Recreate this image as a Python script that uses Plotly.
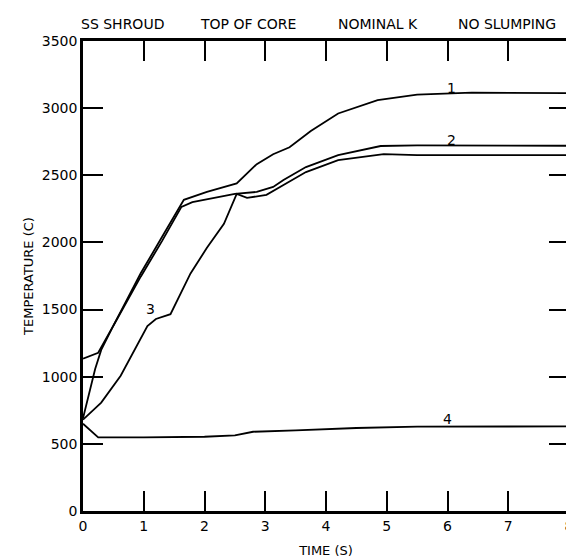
import plotly.graph_objects as go

# ---- data ----
t1 = [0, 0.25, 0.5, 0.95, 1.3, 1.66, 2.04, 2.53, 2.86, 3.13, 3.4, 3.75, 4.2, 4.85, 5.5, 6.4, 8.0]
T1 = [1135, 1178, 1380, 1770, 2040, 2317, 2376, 2440, 2583, 2657, 2709, 2830, 2960, 3060, 3100, 3115, 3112]

t2 = [0, 0.1, 0.2, 0.3, 0.5, 0.95, 1.3, 1.62, 1.8, 2.5, 2.86, 3.13, 3.3, 3.67, 4.2, 4.9, 5.5, 8.0]
T2 = [690, 870, 1058, 1200, 1380, 1745, 2010, 2265, 2300, 2362, 2376, 2413, 2465, 2561, 2650, 2718, 2722, 2720]

t3 = [0, 0.3, 0.62, 1.06, 1.2, 1.44, 1.77, 2.04, 2.32, 2.53, 2.7, 3.02, 3.3, 3.67, 4.2, 4.95, 5.5, 8.0]
T3 = [680, 807, 1007, 1377, 1430, 1466, 1769, 1960, 2139, 2361, 2332, 2354, 2428, 2524, 2613, 2657, 2650, 2650]

t4 = [0, 0.25, 1.0, 2.0, 2.5, 2.8, 3.5, 4.5, 5.5, 8.0]
T4 = [650, 548, 548, 553, 563, 590, 600, 618, 628, 630]

curve_names = ["1", "2", "3", "4"]
label_t = [6.07, 6.07, 1.11, 6.0]
label_T = [3153, 2761, 1502, 688]

x_ticks = [0, 1, 2, 3, 4, 5, 6, 7, 8]
y_ticks = [0, 500, 1000, 1500, 2000, 2500, 3000, 3500]

title_parts = ["SS SHROUD", "TOP OF CORE", "NOMINAL K", "NO SLUMPING"]
title_px = [71, 191, 330, 451]

FONT = "DejaVu Sans"
PL, PR, PT, PB = 75, 565, 33, 506   # plot area in pixels

fig = go.Figure()
for tt, TT in [(t1, T1), (t2, T2), (t3, T3), (t4, T4)]:
    fig.add_trace(go.Scatter(x=tt, y=TT, mode="lines",
                             line=dict(color="black", width=1.8),
                             showlegend=False, hoverinfo="skip"))

for name, lx, ly in zip(curve_names, label_t, label_T):
    fig.add_annotation(x=lx, y=ly, text=name, showarrow=False,
                       font=dict(family=FONT, size=14, color="black"))

for txt, px in zip(title_parts, title_px):
    fig.add_annotation(x=(px - PL) / (PR - PL), y=1 + (PT - 16) / (PB - PT),
                       xref="paper", yref="paper",
                       text=txt, showarrow=False, xanchor="left", yanchor="middle",
                       font=dict(family=FONT, size=14, color="black"))

fig.update_xaxes(range=[0, 8], tickvals=x_ticks, ticktext=[str(v) for v in x_ticks],
                 ticks="inside", ticklen=20, tickwidth=2, tickcolor="black",
                 showline=True, linewidth=2.5, linecolor="black", mirror="ticks",
                 showgrid=False, zeroline=False,
                 tickfont=dict(family=FONT, size=14, color="black"),
                 title=dict(text="TIME (S)", font=dict(family=FONT, size=13, color="black"),
                            standoff=14))
fig.update_yaxes(range=[0, 3500], tickvals=y_ticks, ticktext=[str(v) for v in y_ticks],
                 ticks="inside", ticklen=20, tickwidth=2, tickcolor="black",
                 showline=True, linewidth=2.5, linecolor="black", mirror="ticks",
                 showgrid=False, zeroline=False,
                 tickfont=dict(family=FONT, size=14, color="black"),
                 title=dict(text="TEMPERATURE (C)", font=dict(family=FONT, size=13, color="black"),
                            standoff=6))

fig.update_layout(width=574, height=558,
                  margin=dict(l=PL, r=574 - PR, t=PT, b=558 - PB),
                  paper_bgcolor="white", plot_bgcolor="white")

fig.write_html("out.html")
